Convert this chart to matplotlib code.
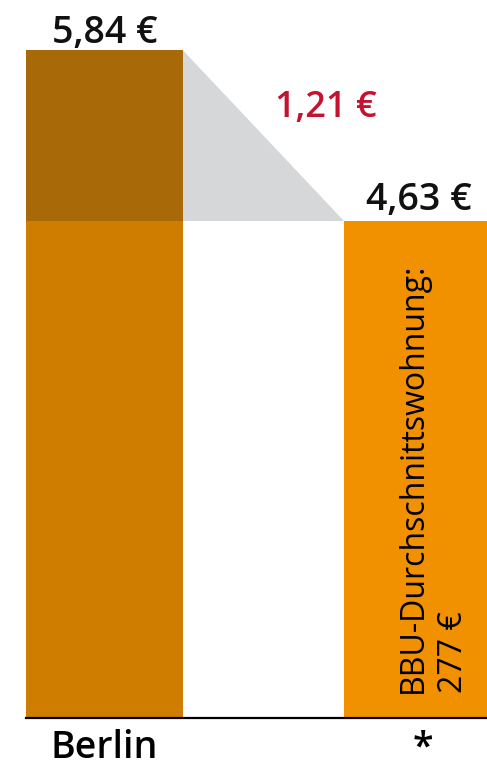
import matplotlib.pyplot as plt
from matplotlib.patches import Polygon

# rent per square metre, EUR
categories = ["Berlin", "*"]
rent = [5.84, 4.63]
gap_label = "1,21 €"
value_labels = ["5,84 €", "4,63 €"]
inner_label = "BBU-Durchschnittswohnung:\n277 €"

c_top = "#A86A08"
c_berlin = "#CE7D00"
c_bbu = "#F29100"
c_gap = "#D5D7D9"
c_red = "#C41230"

fig = plt.figure(figsize=(4.87, 7.68), dpi=100)
ax = fig.add_axes([0, 50 / 768, 1, 718 / 768])

x = [0, 1]
w = 0.494
low = min(rent)
diff = rent[0] - rent[1]

# Berlin bar: lower part up to the BBU level, darker cap for the difference
ax.bar(x[0], low, width=w, color=c_berlin, zorder=2)
ax.bar(x[0], diff, bottom=low, width=w, color=c_top, zorder=2)
ax.bar(x[1], rent[1], width=w, color=c_bbu, zorder=2)

# grey wedge connecting the two levels
wedge = Polygon([(x[0] + w / 2, rent[0]), (x[1] - w / 2, low), (x[0] + w / 2, low)],
                closed=True, color=c_gap, lw=0, zorder=1)
ax.add_patch(wedge)

ax.set_xlim(-0.3286, 1.2028)
ax.set_ylim(1.103, 6.198)

ax.text(x[0], rent[0] + 0.053, value_labels[0], ha="center", va="baseline", fontsize=27,
        family="Open Sans", weight="semibold", color="#111111")
ax.text(x[1] - 0.01, rent[1] + 0.078, value_labels[1], ha="center", va="baseline", fontsize=27,
        family="Open Sans", weight="semibold", color="#111111")

ax.text(0.697, 5.43, gap_label, ha="center", va="center",
        fontsize=26, family="Open Sans", weight="semibold", color=c_red)

ax.text(1.15, 1.28, inner_label, rotation=90, ha="left", va="bottom",
        rotation_mode="anchor", fontsize=23, family="Open Sans",
        linespacing=1.3, color="black", zorder=3)

for s in ["top", "right", "left"]:
    ax.spines[s].set_visible(False)
ax.spines["bottom"].set_bounds(x[0] - w / 2, 1.3)
ax.spines["bottom"].set_linewidth(1.6)
ax.set_yticks([])
ax.set_xticks([x[0], x[1]])
ax.set_xticklabels(categories, fontsize=27, family="Open Sans", weight="semibold")
ax.tick_params(axis="x", length=0, pad=8)

fig.savefig("out.png", dpi=100)
